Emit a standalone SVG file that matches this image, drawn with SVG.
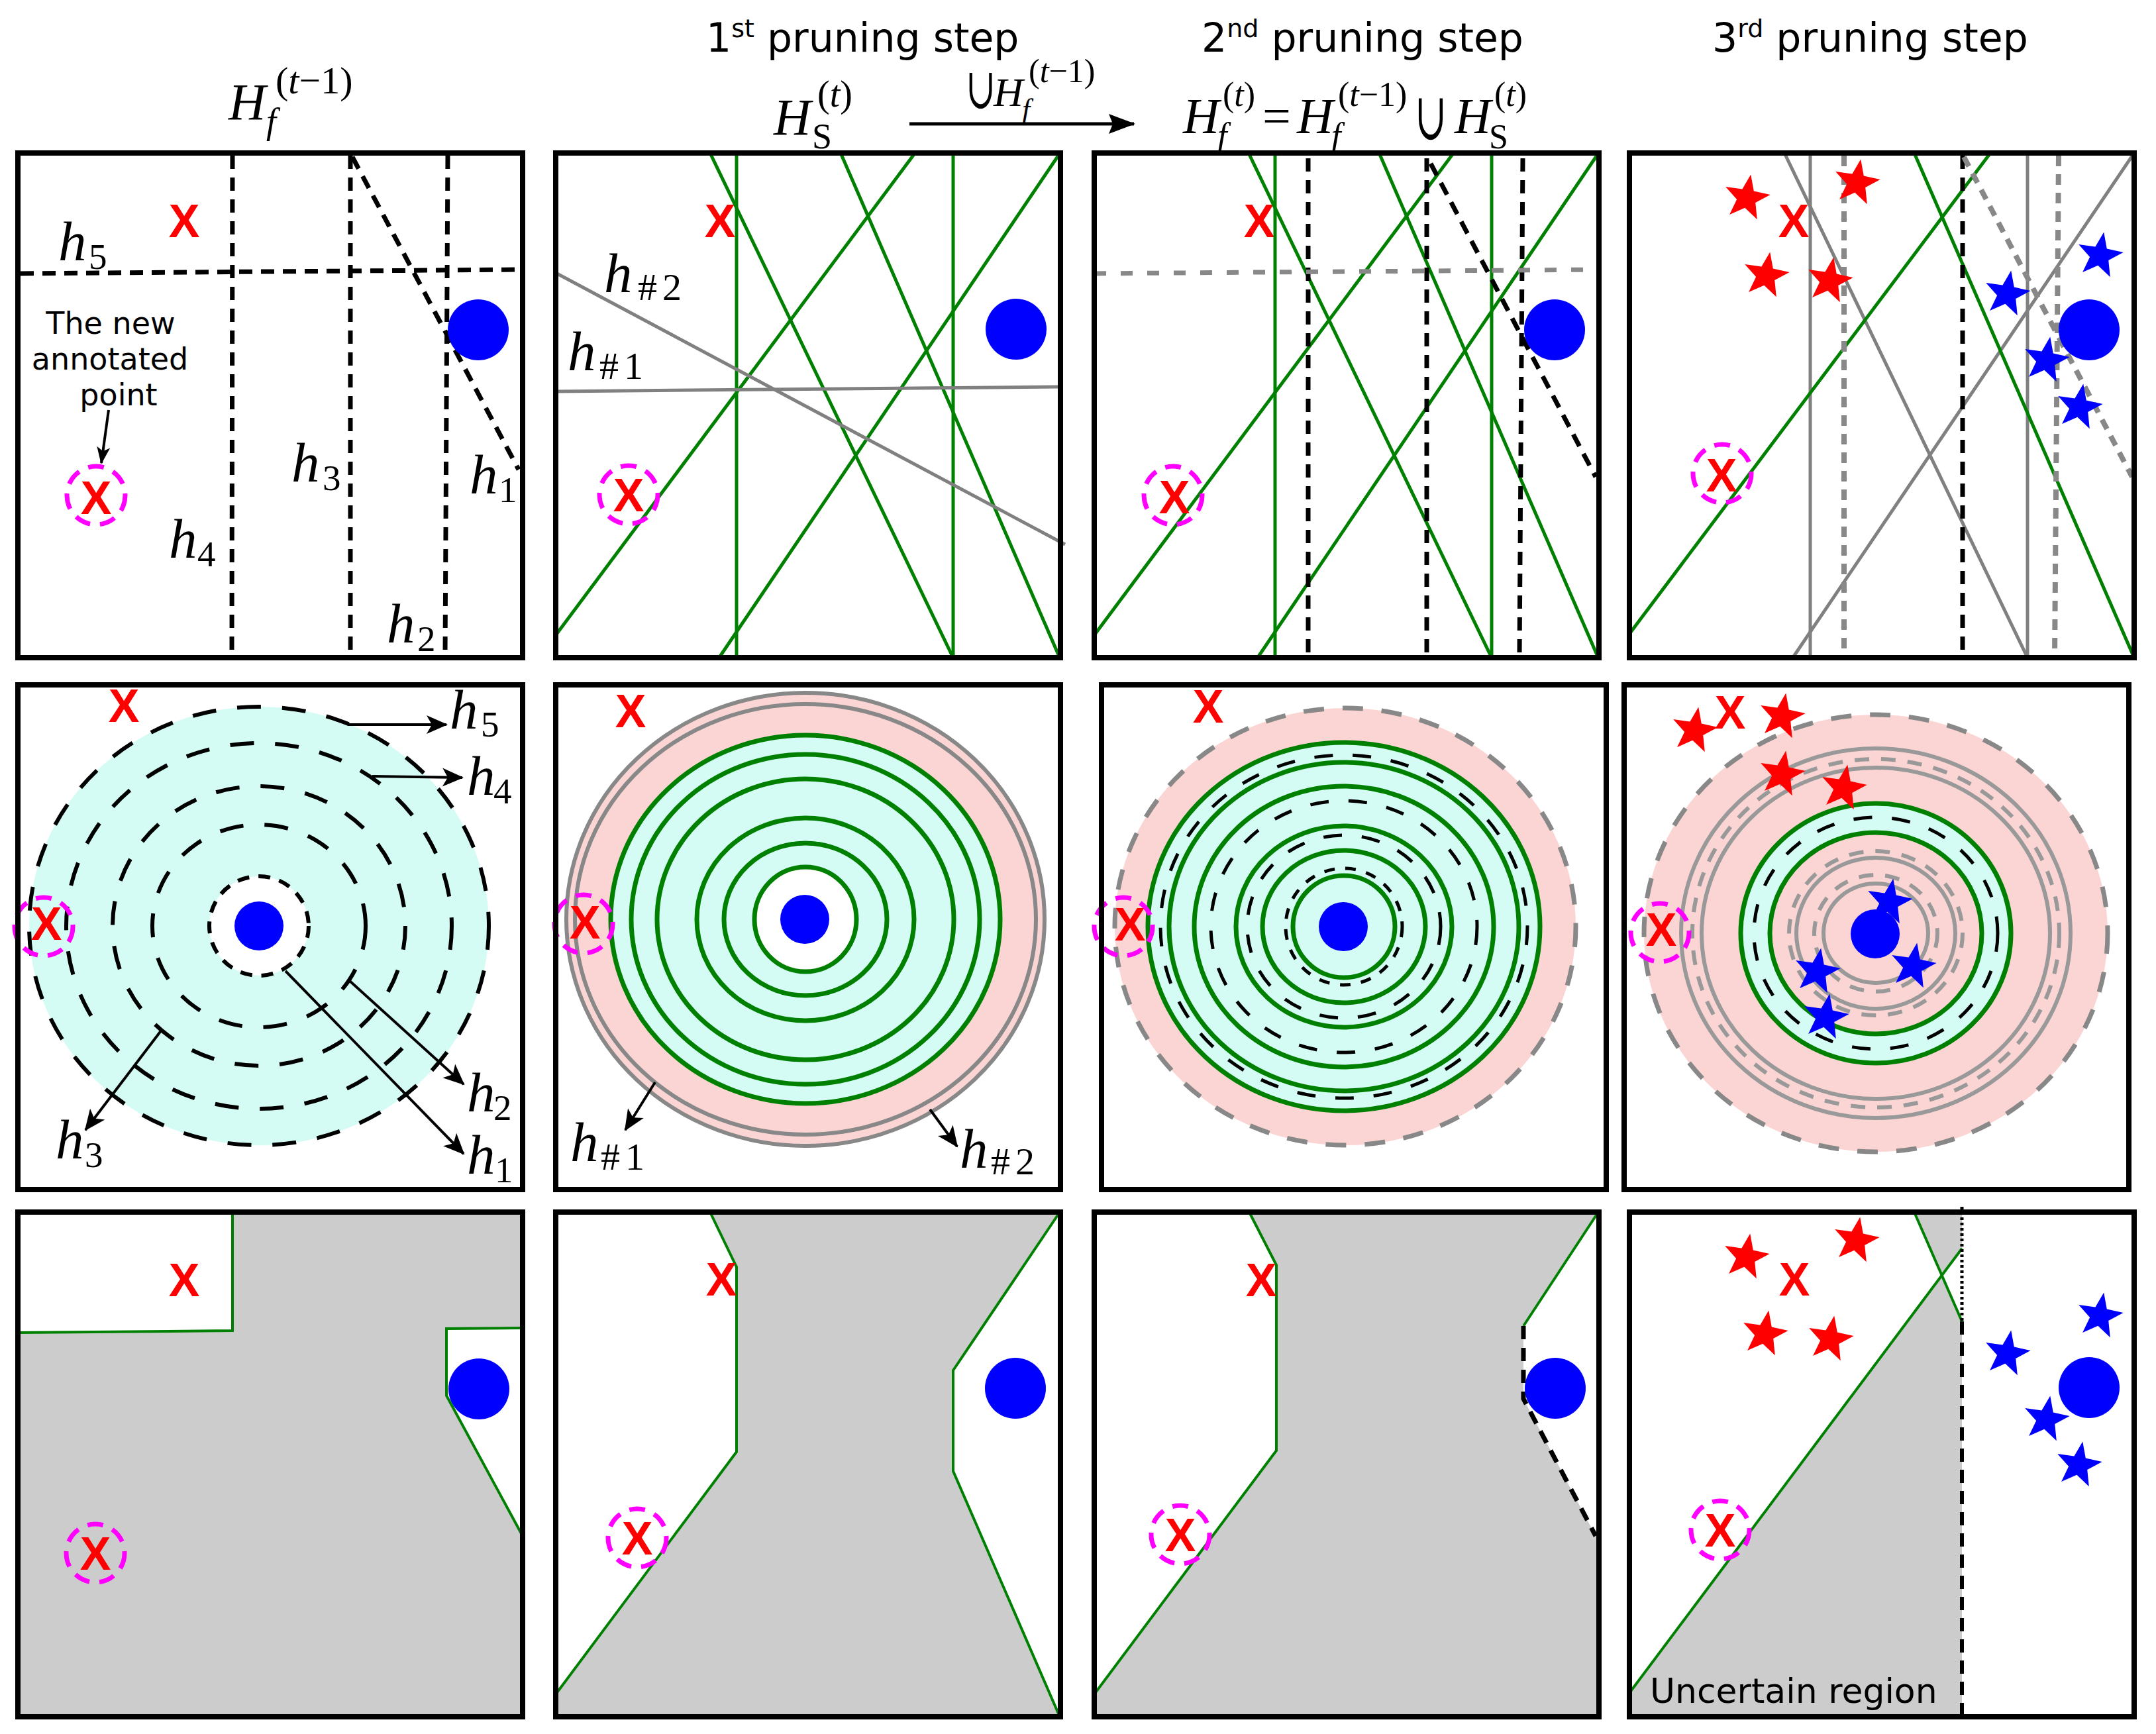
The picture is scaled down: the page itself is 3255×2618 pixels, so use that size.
<svg xmlns="http://www.w3.org/2000/svg" width="3255" height="2618" viewBox="0 0 3255 2618">
<defs>
<style>
.bd{fill:none;stroke:#000;stroke-width:8}
.g{fill:none;stroke:#008000;stroke-width:5}
.g4{fill:none;stroke:#008000;stroke-width:4}
.g7{fill:none;stroke:#008000;stroke-width:7}
.gr{fill:none;stroke:#808080;stroke-width:5}
.gs{fill:none;stroke:#999;stroke-width:6}
.gs2{fill:none;stroke:#888;stroke-width:6}
.dk{fill:none;stroke:#000;stroke-width:7;stroke-dasharray:20 13}
.grd{fill:none;stroke:#888;stroke-width:8;stroke-dasharray:16 12}
.grh{fill:none;stroke:#888;stroke-width:7;stroke-dasharray:18 22}
.ring{fill:none;stroke:#000;stroke-width:6;stroke-dasharray:36 32}
.ringc{fill:none;stroke:#000;stroke-width:5;stroke-dasharray:28 30}
.gring{fill:none;stroke:#888;stroke-width:7;stroke-dasharray:31 28}
.lring{fill:none;stroke:#999;stroke-width:6;stroke-dasharray:22 18}
.xm{font-family:"Liberation Sans",Arial,sans-serif;font-weight:bold;font-size:70px;fill:#f00;text-anchor:middle}
.mc{fill:none;stroke:#f0f;stroke-width:7;stroke-dasharray:24 15}
.bl{fill:#00f}
.rs{fill:#f00}
.bs{fill:#00f}
.hl{font-family:"Liberation Serif","Times New Roman",serif;font-style:italic;font-size:85px}
.hs{font-family:"Liberation Serif","Times New Roman",serif;font-style:normal;font-size:55px}
.hh{font-family:"Liberation Serif","Times New Roman",serif;font-style:normal;font-size:58px;letter-spacing:8px}
.tx{font-family:"DejaVu Sans",sans-serif}
.hd{font-family:"DejaVu Sans",sans-serif;font-size:60px}
.sp{font-size:38px}
.mr{font-family:"Liberation Serif","Times New Roman",serif}
.cup{font-family:"DejaVu Serif",serif}
.it{font-style:italic}
.ar{fill:none;stroke:#000;stroke-width:4;marker-end:url(#ah)}
.cy{fill:#d4fcf4}
.pk{fill:#fbd5d3}
.gy{fill:#ccc}
.wh{fill:#fff}
</style>
<marker id="ah" markerUnits="userSpaceOnUse" markerWidth="40" markerHeight="36" viewBox="-36 -18 40 36" refX="0" refY="0" orient="auto"><path d="M2,0 L-30,-14 L-22,0 L-30,14 Z" fill="#000"/></marker>
<marker id="ahs" markerUnits="userSpaceOnUse" markerWidth="32" markerHeight="24" viewBox="-28 -12 32 24" refX="0" refY="0" orient="auto"><path d="M2,0 L-24,-10 L-18,0 L-24,10 Z" fill="#000"/></marker>
<marker id="ahb" markerUnits="userSpaceOnUse" markerWidth="46" markerHeight="36" viewBox="-42 -18 46 36" refX="0" refY="0" orient="auto"><path d="M2,0 L-38,-15 L-32,0 L-38,15 Z" fill="#000"/></marker>
<path id="star" transform="rotate(10)" d="M0,-36 L8.82,-12.14 L34.24,-11.12 L14.27,4.64 L21.16,29.12 L0,15 L-21.16,29.12 L-14.27,4.64 L-34.24,-11.12 L-8.82,-12.14 Z"/>
</defs>
<rect width="3255" height="2618" fill="#fff"/>

<g id="headers">
<text class="hd" x="1066" y="78">1<tspan class="sp" dy="-22">st</tspan><tspan dy="22"> pruning step</tspan></text>
<text class="hd" x="1814" y="78">2<tspan class="sp" dy="-22">nd</tspan><tspan dy="22"> pruning step</tspan></text>
<text class="hd" x="2585" y="78">3<tspan class="sp" dy="-22">rd</tspan><tspan dy="22"> pruning step</tspan></text>
<text id="label-Hf-prev" class="mr"><tspan class="it" x="345" y="180" font-size="78">H</tspan><tspan class="it" x="402" y="201" font-size="54">f</tspan><tspan x="416" y="141" font-size="58">(<tspan class="it">t</tspan>−1)</tspan></text>
<text id="label-HS" class="mr"><tspan class="it" x="1168" y="203" font-size="78">H</tspan><tspan x="1226" y="224" font-size="54">S</tspan><tspan x="1234" y="161" font-size="56">(<tspan class="it">t</tspan>)</tspan></text>
<text class="cup" transform="translate(1458,163) scale(0.75,1.2)" font-size="72">∪</text>
<text id="label-union" class="mr"><tspan class="it" x="1500" y="160" font-size="62">H</tspan><tspan class="it" x="1543" y="180" font-size="44">f</tspan><tspan x="1553" y="124" font-size="50">(<tspan class="it">t</tspan>−1)</tspan></text>
<text id="label-Hf-new" class="mr"><tspan class="it" x="1786" y="201" font-size="76">H</tspan><tspan class="it" x="1838" y="222" font-size="52">f</tspan><tspan x="1846" y="160" font-size="52">(<tspan class="it">t</tspan>)</tspan><tspan x="1906" y="201" font-size="76">=</tspan><tspan class="it" x="1958" y="201" font-size="76">H</tspan><tspan class="it" x="2010" y="222" font-size="52">f</tspan><tspan x="2020" y="160" font-size="52">(<tspan class="it">t</tspan>−1)</tspan><tspan class="it" x="2196" y="201" font-size="76">H</tspan><tspan x="2248" y="224" font-size="52">S</tspan><tspan x="2256" y="160" font-size="52">(<tspan class="it">t</tspan>)</tspan></text>
<text class="cup" transform="translate(2136,210) scale(0.72,1.25)" font-size="80">∪</text>
</g>

<!-- Row 1 -->
<g id="panel-A1" transform="translate(27,231)">
<line class="dk" x1="324" y1="4" x2="323" y2="758"/>
<line class="dk" x1="502" y1="4" x2="502" y2="758"/>
<line class="dk" x1="649" y1="4" x2="645" y2="758"/>
<line class="dk" x1="4" y1="182" x2="758" y2="176"/>
<line class="dk" x1="505" y1="6" x2="756" y2="478"/>
<circle class="bl" cx="695" cy="267" r="46"/>
<text class="xm" x="251" y="127">X</text>
<circle class="mc" cx="118" cy="517" r="44"/>
<text class="xm" x="118" y="545">X</text>
<text class="tx" font-size="46" text-anchor="middle"><tspan x="140" y="273">The new</tspan><tspan x="139" y="327">annotated</tspan><tspan x="152" y="381">point</tspan></text>
<text class="hl" x="61" y="162">h<tspan class="hs" x="107" y="175">5</tspan></text>
<text class="hl" x="413" y="496">h<tspan class="hs" x="460" y="509">3</tspan></text>
<text class="hl" x="682" y="514">h<tspan class="hs" x="726" y="527">1</tspan></text>
<text class="hl" x="228" y="611">h<tspan class="hs" x="271" y="624">4</tspan></text>
<text class="hl" x="557" y="739">h<tspan class="hs" x="603" y="752">2</tspan></text>
<rect class="bd" width="762" height="762"/>
</g>

<g id="panel-B1" transform="translate(839,231)">
<text class="xm" x="248" y="127">X</text>
<g class="g">
<line x1="273" y1="0" x2="273" y2="762"/>
<line x1="600" y1="0" x2="600" y2="762"/>
<line x1="234" y1="2" x2="599" y2="760"/>
<line x1="431" y1="2" x2="760" y2="760"/>
<line x1="541" y1="2" x2="0" y2="728"/>
<line x1="760" y1="2" x2="248" y2="760"/>
</g>
<line class="gr" x1="0" y1="360" x2="758" y2="353"/>
<line class="gr" x1="0" y1="181" x2="769" y2="591"/>
<circle class="bl" cx="695" cy="266" r="46"/>
<circle class="mc" cx="110" cy="516" r="44"/>
<text class="xm" x="110" y="541">X</text>
<text class="hl" x="73" y="210">h<tspan class="hh" x="124" y="222">#2</tspan></text>
<text class="hl" x="18" y="328">h<tspan class="hh" x="66" y="341">#1</tspan></text>
<rect class="bd" width="762" height="762"/>
</g>

<g id="panel-C1" transform="translate(1652,231)">
<text class="xm" x="249" y="127">X</text>
<g class="g">
<line x1="273" y1="0" x2="273" y2="762"/>
<line x1="600" y1="0" x2="600" y2="762"/>
<line x1="234" y1="2" x2="599" y2="760"/>
<line x1="431" y1="2" x2="760" y2="760"/>
<line x1="541" y1="2" x2="0" y2="728"/>
<line x1="760" y1="2" x2="248" y2="760"/>
</g>
<line class="dk" x1="323" y1="8" x2="323" y2="758"/>
<line class="dk" x1="502" y1="8" x2="502" y2="758"/>
<line class="dk" x1="647" y1="8" x2="642" y2="758"/>
<line class="dk" x1="508" y1="16" x2="757" y2="489"/>
<line class="grh" x1="0" y1="182" x2="762" y2="176"/>
<circle class="bl" cx="695" cy="267" r="46"/>
<circle class="mc" cx="119" cy="517" r="44"/>
<text class="xm" x="121" y="544">X</text>
<rect class="bd" width="762" height="762"/>
</g>

<g id="panel-D1" transform="translate(2460,231)">
<g class="gr">
<line x1="273" y1="0" x2="273" y2="762"/>
<line x1="601" y1="0" x2="601" y2="762"/>
<line x1="234" y1="0" x2="601" y2="762"/>
<line x1="762" y1="0" x2="248" y2="760"/>
</g>
<g class="g">
<line x1="545" y1="0" x2="0" y2="726"/>
<line x1="430" y1="0" x2="762" y2="762"/>
</g>
<line class="dk" x1="503" y1="4" x2="503" y2="758"/>
<g class="grd">
<line x1="324" y1="4" x2="324" y2="762"/>
<line x1="648" y1="4" x2="642" y2="762"/>
<line x1="505" y1="6" x2="759" y2="489"/>
</g>
<circle class="bl" cx="694" cy="267" r="46"/>
<text class="xm" x="248" y="127">X</text>
<use href="#star" class="rs" x="177" y="68"/>
<use href="#star" class="rs" x="343" y="45"/>
<use href="#star" class="rs" x="206" y="185"/>
<use href="#star" class="rs" x="302" y="193"/>
<use href="#star" class="bs" x="710" y="155"/>
<use href="#star" class="bs" x="570" y="213"/>
<use href="#star" class="bs" x="629" y="313"/>
<use href="#star" class="bs" x="679" y="384"/>
<circle class="mc" cx="140" cy="484" r="44"/>
<text class="xm" x="139" y="511">X</text>
<rect class="bd" width="762" height="762"/>
</g>

<!-- Row 2 -->
<g id="panel-A2" transform="translate(27,1034)">
<ellipse class="cy" cx="364" cy="364" rx="347" ry="331"/>
<ellipse class="ring" cx="364" cy="364" rx="347" ry="331"/>
<ellipse class="ring" cx="364" cy="364" rx="291" ry="276"/>
<ellipse class="ring" cx="364" cy="364" rx="221" ry="211"/>
<ellipse class="ring" cx="364" cy="364" rx="161" ry="153"/>
<ellipse class="wh" cx="364" cy="364" rx="75" ry="75"/>
<ellipse fill="none" stroke="#000" stroke-width="6" stroke-dasharray="18 14" cx="364" cy="364" rx="75" ry="75"/>
<circle class="bl" cx="364" cy="364" r="37"/>
<text class="xm" x="160" y="56">X</text>
<circle class="mc" cx="39" cy="365" r="44"/>
<text class="xm" x="43" y="385">X</text>
<text class="hl" x="652" y="66">h<tspan class="hs" x="699" y="78">5</tspan></text>
<text class="hl" x="678" y="166">h<tspan class="hs" x="718" y="179">4</tspan></text>
<text class="hl" x="678" y="644">h<tspan class="hs" x="718" y="657">2</tspan></text>
<text class="hl" x="678" y="738">h<tspan class="hs" x="720" y="751">1</tspan></text>
<text class="hl" x="57" y="715">h<tspan class="hs" x="101" y="728">3</tspan></text>
<rect class="bd" width="762" height="762"/>
</g>

<g id="panel-B2" transform="translate(839,1034)">
<ellipse class="pk" cx="377" cy="354" rx="361" ry="342"/>
<ellipse class="cy" cx="377" cy="354" rx="294" ry="278"/>
<ellipse class="wh" cx="377" cy="354" rx="77" ry="79"/>
<g class="g7">
<ellipse cx="377" cy="354" rx="294" ry="278"/>
<ellipse cx="377" cy="354" rx="263" ry="249"/>
<ellipse cx="377" cy="354" rx="224" ry="212"/>
<ellipse cx="377" cy="354" rx="164" ry="153"/>
<ellipse cx="377" cy="354" rx="123" ry="115"/>
<ellipse cx="377" cy="354" rx="77" ry="79"/>
</g>
<ellipse class="gs2" cx="377" cy="354" rx="361" ry="342"/>
<ellipse class="gs2" cx="377" cy="354" rx="348" ry="325"/>
<circle class="bl" cx="376" cy="354" r="37"/>
<text class="xm" x="113" y="64">X</text>
<circle class="mc" cx="42" cy="361" r="44"/>
<text class="xm" x="44" y="383">X</text>
<text class="hl" x="22" y="719">h<tspan class="hh" x="68" y="732">#1</tspan></text>
<text class="hl" x="610" y="729">h<tspan class="hh" x="657" y="739">#2</tspan></text>
<rect class="bd" width="762" height="762"/>
</g>

<g id="panel-C2" transform="translate(1663,1034)">
<ellipse class="pk" cx="368" cy="365" rx="348" ry="330"/>
<ellipse class="cy" cx="366" cy="365" rx="296" ry="278"/>
<g class="g7">
<ellipse cx="366" cy="365" rx="296" ry="278"/>
<ellipse cx="366" cy="365" rx="264" ry="248"/>
<ellipse cx="366" cy="365" rx="226" ry="212"/>
<ellipse cx="366" cy="365" rx="163" ry="152"/>
<ellipse cx="366" cy="365" rx="123" ry="115"/>
<ellipse cx="366" cy="365" rx="77" ry="77"/>
</g>
<g class="ringc">
<ellipse cx="366" cy="365" rx="277" ry="259"/>
<ellipse cx="366" cy="365" rx="201" ry="190"/>
<ellipse cx="366" cy="365" rx="146" ry="138"/>
<ellipse cx="366" cy="365" rx="88" ry="88" stroke-dasharray="16 16"/>
</g>
<ellipse class="gring" cx="368" cy="365" rx="348" ry="330"/>
<circle class="bl" cx="365" cy="365" r="37"/>
<text class="xm" x="161" y="57">X</text>
<circle class="mc" cx="33" cy="365" r="44"/>
<text class="xm" x="43" y="386">X</text>
<rect class="bd" width="762" height="762"/>
</g>

<g id="panel-D2" transform="translate(2452,1034)">
<ellipse class="pk" cx="380" cy="375" rx="350" ry="330"/>
<ellipse class="cy" cx="380" cy="375" rx="204" ry="196"/>
<ellipse class="pk" cx="380" cy="375" rx="160" ry="152"/>
<g class="gs">
<ellipse cx="380" cy="375" rx="294" ry="279"/>
<ellipse cx="380" cy="375" rx="263" ry="250"/>
<ellipse cx="380" cy="375" rx="120" ry="114"/>
<ellipse cx="380" cy="375" rx="79" ry="75"/>
</g>
<g class="lring">
<ellipse cx="380" cy="375" rx="277" ry="263"/>
<ellipse cx="380" cy="375" rx="131" ry="124"/>
<ellipse cx="380" cy="375" rx="93" ry="88"/>
</g>
<g class="g7">
<ellipse cx="380" cy="375" rx="204" ry="196"/>
<ellipse cx="380" cy="375" rx="160" ry="152"/>
</g>
<ellipse class="ringc" cx="380" cy="375" rx="184" ry="175"/>
<ellipse class="gring" cx="380" cy="375" rx="350" ry="330"/>
<circle class="bl" cx="379" cy="376" r="37"/>
<use href="#star" class="rs" x="106" y="69"/>
<use href="#star" class="rs" x="238" y="48"/>
<use href="#star" class="rs" x="238" y="135"/>
<use href="#star" class="rs" x="331" y="156"/>
<text class="xm" x="160" y="66">X</text>
<use href="#star" class="bs" x="400" y="328"/>
<use href="#star" class="bs" x="291" y="433"/>
<use href="#star" class="bs" x="436" y="425"/>
<use href="#star" class="bs" x="304" y="502"/>
<circle class="mc" cx="54" cy="374" r="44"/>
<text class="xm" x="56" y="394">X</text>
<rect class="bd" width="762" height="762"/>
</g>

<!-- Row 3 -->
<g id="panel-A3" transform="translate(27,1830)">
<rect class="gy" width="762" height="762"/>
<polygon class="wh" points="0,0 324,0 324,179 0,182"/>
<polygon class="wh" points="647,176 762,175 762,489 647,277"/>
<polyline class="g4" points="324,0 324,179 0,182"/>
<polyline class="g4" points="762,175 647,176 647,277 762,489"/>
<circle class="bl" cx="696" cy="267" r="46"/>
<text class="xm" x="251" y="127">X</text>
<circle class="mc" cx="117" cy="515" r="44"/>
<text class="xm" x="117" y="540">X</text>
<rect class="bd" width="762" height="762"/>
</g>

<g id="panel-B3" transform="translate(839,1830)">
<polygon class="gy" points="233,0 761,0 600,239 600,391 762,762 0,762 0,728 273,362 273,83"/>
<polyline class="g4" points="233,0 273,83 273,362 0,728"/>
<polyline class="g4" points="761,0 600,239 600,391 761,762"/>
<circle class="bl" cx="694" cy="266" r="46"/>
<text class="xm" x="250" y="126">X</text>
<circle class="mc" cx="123" cy="492" r="44"/>
<text class="xm" x="123" y="517">X</text>
<rect class="bd" width="762" height="762"/>
</g>

<g id="panel-C3" transform="translate(1652,1830)">
<polygon class="gy" points="234,0 761,0 648,172 648,282 757,489 762,489 762,762 0,762 0,728 275,360 275,80"/>
<polyline class="g4" points="234,0 275,80 275,360 0,728"/>
<polyline class="g4" points="761,0 648,172"/>
<polyline class="dk" stroke-width="6" points="648,172 648,282 757,489"/>
<circle class="bl" cx="696" cy="266" r="46"/>
<text class="xm" x="252" y="127">X</text>
<circle class="mc" cx="130" cy="487" r="44"/>
<text class="xm" x="130" y="512">X</text>
<rect class="bd" width="762" height="762"/>
</g>

<g id="panel-D3" transform="translate(2460,1830)">
<polygon class="gy" points="0,726 471,95 502,165 502,762 0,762"/>
<polygon class="gy" points="430,0 502,0 502,55 471,95"/>
<line class="g4" x1="0" y1="726" x2="502" y2="55"/>
<line class="g4" x1="430" y1="0" x2="502" y2="165"/>
<line x1="502" y1="-8" x2="502" y2="165" stroke="#000" stroke-width="5" stroke-dasharray="4 4"/>
<line x1="502" y1="165" x2="502" y2="762" stroke="#000" stroke-width="6" stroke-dasharray="20 12"/>
<use href="#star" class="rs" x="176" y="68"/>
<use href="#star" class="rs" x="342" y="43"/>
<use href="#star" class="rs" x="204" y="184"/>
<use href="#star" class="rs" x="303" y="192"/>
<use href="#star" class="bs" x="710" y="157"/>
<use href="#star" class="bs" x="570" y="214"/>
<use href="#star" class="bs" x="629" y="313"/>
<use href="#star" class="bs" x="678" y="382"/>
<circle class="bl" cx="694" cy="265" r="46"/>
<text class="xm" x="249" y="126">X</text>
<circle class="mc" cx="137" cy="480" r="44"/>
<text class="xm" x="137" y="505">X</text>
<text class="tx" x="31" y="741" font-size="52">Uncertain region</text>
<rect class="bd" width="762" height="762"/>
</g>

<g id="connectors">
<line x1="1373" y1="187" x2="1712" y2="187" stroke="#000" stroke-width="5" marker-end="url(#ahb)"/>
<g transform="translate(27,231)">
<line x1="137" y1="388" x2="126" y2="468" stroke="#000" stroke-width="4" marker-end="url(#ahs)"/>
</g>
<g transform="translate(27,1034)">
<line class="ar" x1="498" y1="60" x2="647" y2="60"/>
<line class="ar" x1="535" y1="138" x2="671" y2="140"/>
<line class="ar" x1="404" y1="432" x2="673" y2="708"/>
<line class="ar" x1="501" y1="447" x2="673" y2="603"/>
<line class="ar" x1="217" y1="521" x2="102" y2="672"/>
</g>
<g transform="translate(839,1034)">
<line class="ar" x1="150" y1="600" x2="105" y2="672"/>
<line class="ar" x1="565" y1="641" x2="606" y2="697"/>
</g>
</g>
</svg>
